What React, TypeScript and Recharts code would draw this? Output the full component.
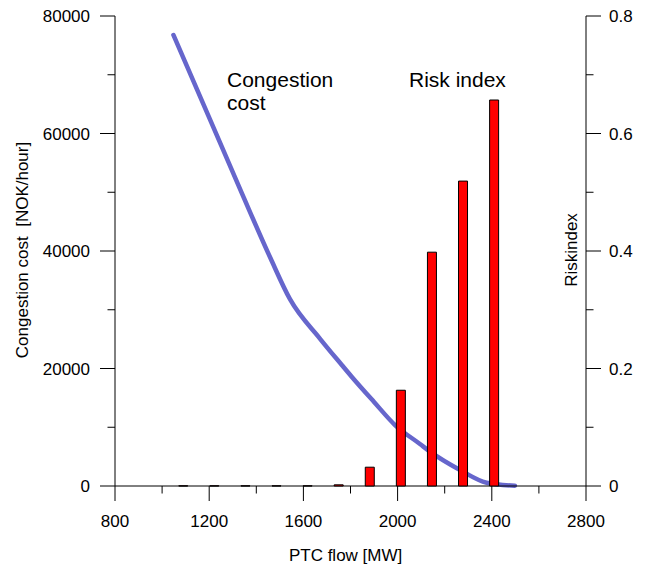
import React from "react";
import { ComposedChart, Bar, Line, XAxis, YAxis } from "recharts";

// axis ticks (major + minor)
const flowTicks = [800, 1000, 1200, 1400, 1600, 1800, 2000, 2200, 2400, 2600, 2800];
const costTicks = [0, 10000, 20000, 30000, 40000, 50000, 60000, 70000, 80000];
const riskTicks = [0, 0.1, 0.2, 0.3, 0.4, 0.5, 0.6, 0.7, 0.8];

// risk index bars
const riskFlow = [1090, 1222, 1354, 1486, 1618, 1750, 1882, 2014, 2146, 2278, 2410];
const riskIndex = [0.0003, 0.0003, 0.0003, 0.0003, 0.0003, 0.002, 0.032, 0.163, 0.398, 0.519, 0.657];

// congestion cost curve
const costFlow = [1048, 1200, 1338, 1460, 1543, 1670, 1763, 1805, 1900, 1989, 2095, 2138, 2265, 2378, 2498];
const costValues = [76770, 62700, 49900, 38800, 31800, 25100, 20600, 18600, 14300, 10380, 7150, 5840, 2720, 560, 50];

const barData = riskFlow.map((flow, i) => ({ flow, risk: riskIndex[i] }));
const lineData = costFlow.map((flow, i) => ({ flow, cost: costValues[i] }));

const font = "'Liberation Sans', Arial, sans-serif";

const XTick = (props: any) => {
  const { x, y, payload } = props;
  const major = payload.value % 400 === 0;
  return (
    <g>
      <line x1={x} x2={x} y1={y} y2={y + (major ? 15 : 7.5)} stroke="#000" />
      {major && (
        <text x={x} y={y + 40.7} textAnchor="middle" fontSize={17} fontFamily={font} fill="#000">
          {payload.value}
        </text>
      )}
    </g>
  );
};

const LeftTick = (props: any) => {
  const { x, y, payload } = props;
  const major = payload.value % 20000 === 0;
  return (
    <g>
      <line x1={x - (major ? 15 : 7.5)} x2={x} y1={y} y2={y} stroke="#000" />
      {major && (
        <text x={x - 25} y={y} dy="0.36em" textAnchor="end" fontSize={17} fontFamily={font} fill="#000">
          {payload.value}
        </text>
      )}
    </g>
  );
};

const RightTick = (props: any) => {
  const { x, y, payload } = props;
  const tenth = Math.round(payload.value * 10);
  const major = tenth % 2 === 0;
  return (
    <g>
      <line x1={x} x2={x + (major ? 15 : 7.5)} y1={y} y2={y} stroke="#000" />
      {major && (
        <text x={x + 23} y={y} dy="0.36em" textAnchor="start" fontSize={17} fontFamily={font} fill="#000">
          {tenth === 0 ? "0" : (tenth / 10).toFixed(1)}
        </text>
      )}
    </g>
  );
};

const Texts = () => (
  <g fontFamily={font} fill="#000">
    <text x={219} y={79.3} fontSize={21}>Congestion</text>
    <text x={219} y={102} fontSize={21}>cost</text>
    <text x={401} y={79.3} fontSize={21}>Risk index</text>
    <text x={337.6} y={552.7} fontSize={17} textAnchor="middle">PTC flow [MW]</text>
    <text
      x={19.5}
      y={242}
      fontSize={17}
      textAnchor="middle"
      transform="rotate(-90 19.5 242)"
      style={{ whiteSpace: "pre" }}
    >
      {"Congestion cost  [NOK/hour]"}
    </text>
    <text x={569} y={242} fontSize={17} textAnchor="middle" transform="rotate(-90 569 242)">
      Riskindex
    </text>
  </g>
);

export default function App() {
  return (
    <ComposedChart
      width={630}
      height={556}
      data={barData}
      margin={{ top: 8, right: 0, bottom: 0, left: 0 }}
    >
      <XAxis
        xAxisId="bars"
        dataKey="flow"
        type="number"
        domain={[800, 2800]}
        ticks={flowTicks}
        interval={0}
        height={78}
        tickSize={0}
        tickMargin={0}
        tickLine={false}
        axisLine={{ stroke: "#000" }}
        tick={<XTick />}
        allowDataOverflow
      />
      <XAxis
        xAxisId="curve"
        dataKey="flow"
        type="number"
        domain={[800, 2800]}
        height={0}
        hide
        allowDataOverflow
      />
      <YAxis
        yAxisId="left"
        orientation="left"
        type="number"
        domain={[0, 80000]}
        ticks={costTicks}
        interval={0}
        width={107}
        tickSize={0}
        tickMargin={0}
        tickLine={false}
        axisLine={{ stroke: "#000" }}
        tick={<LeftTick />}
      />
      <YAxis
        yAxisId="right"
        orientation="right"
        type="number"
        domain={[0, 0.8]}
        ticks={riskTicks}
        interval={0}
        width={52}
        tickSize={0}
        tickMargin={0}
        tickLine={false}
        axisLine={{ stroke: "#000" }}
        tick={<RightTick />}
      />
      <Line
        xAxisId="curve"
        yAxisId="left"
        data={lineData}
        dataKey="cost"
        type="monotone"
        stroke="#6666cc"
        strokeWidth={4.5}
        strokeLinecap="round"
        dot={false}
        activeDot={false}
        isAnimationActive={false}
        zIndex={300}
      />
      <Bar
        xAxisId="bars"
        yAxisId="right"
        dataKey="risk"
        barSize={9}
        fill="#ff0000"
        stroke="#000"
        strokeWidth={1}
        isAnimationActive={false}
        zIndex={500}
      />
      <Texts />
    </ComposedChart>
  );
}
